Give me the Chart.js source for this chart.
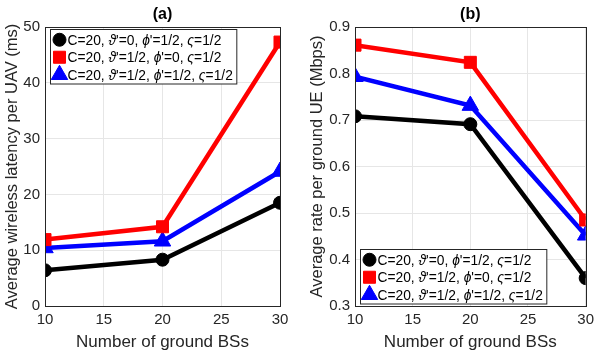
<!DOCTYPE html>
<html>
<head>
<meta charset="utf-8">
<script src="https://cdn.jsdelivr.net/npm/chart.js@4.4.1/dist/chart.umd.min.js"></script>
<style>
  body { margin: 0; background: #fff; }
  #wrap { display: flex; width: 599px; height: 353px; }
  canvas { display: block; }
</style>
</head>
<body>
<div id="wrap">
  <canvas id="latency" width="300" height="353"></canvas>
  <canvas id="rate" width="299" height="353"></canvas>
</div>
<script>
const groundBSs = [10, 20, 30];
const xTicks = [10, 15, 20, 25, 30];

// legend text, [text, italic]
const seriesLabels = [
    [['C=20, ', false], ['ϑ', true], ["'=0, ", false], ['ϕ', true], ["'=1/2, ", false], ['ς', true], ['=1/2', false]],
    [['C=20, ', false], ['ϑ', true], ["'=1/2, ", false], ['ϕ', true], ["'=0, ", false], ['ς', true], ['=1/2', false]],
    [['C=20, ', false], ['ϑ', true], ["'=1/2, ", false], ['ϕ', true], ["'=1/2, ", false], ['ς', true], ['=1/2', false]]
];
const seriesColors = ['#000000', '#ff0000', '#0000ff'];
const seriesMarkers = ['circle', 'rect', 'triangle'];
const markerRadius = [6.5, 8.5, 9.5];

// (a) average wireless latency per UAV (ms)
const latencyBlack = [6.4, 8.3, 18.5];
const latencyRed = [11.9, 14.2, 47.3];
const latencyBlue = [10.4, 11.6, 24.1];
const latencyTicks = [0, 10, 20, 30, 40, 50];

// (b) average rate per ground UE (Mbps)
const rateBlack = [0.708, 0.691, 0.36];
const rateRed = [0.861, 0.824, 0.485];
const rateBlue = [0.793, 0.731, 0.452];
const rateTicks = [0.3, 0.4, 0.5, 0.6, 0.7, 0.8, 0.9];

const FONT = 'Liberation Sans, Arial, sans-serif';
const axisColor = '#262626';

function makeDatasets(series) {
    return series.map((vals, i) => ({
        label: 'series' + i,
        data: groundBSs.map((x, k) => ({x: x, y: vals[k]})),
        borderColor: seriesColors[i],
        backgroundColor: seriesColors[i],
        borderWidth: 4.5,
        pointStyle: seriesMarkers[i],
        pointRadius: markerRadius[i],
        pointBorderWidth: 1,
        pointBackgroundColor: seriesColors[i],
        pointBorderColor: seriesColors[i],
        tension: 0
    }));
}

// box, title and the in-axes legend
const matlabPlugin = {
    id: 'matlab',
    afterDatasetsDraw(chart, args, opts) {
        const ctx = chart.ctx;
        const a = chart.chartArea;
        ctx.save();
        ctx.strokeStyle = axisColor;
        ctx.lineWidth = 1;
        ctx.strokeRect(Math.round(a.left) + 0.5, Math.round(a.top) + 0.5,
            Math.round(a.right - a.left), Math.round(a.bottom - a.top));

        // title
        ctx.fillStyle = '#000';
        ctx.font = 'bold 16px ' + FONT;
        ctx.textAlign = 'center';
        ctx.textBaseline = 'middle';
        ctx.fillText(opts.title, (a.left + a.right) / 2, 14.5);

        // legend
        ctx.textAlign = 'left';
        const fs = 13.8;
        const rowH = 17.5;
        const widths = seriesLabels.map(parts => parts.reduce((w, p) => {
            ctx.font = (p[1] ? 'italic ' : '') + fs + 'px ' + FONT;
            return w + ctx.measureText(p[0]).width;
        }, 0));
        const boxW = 18 + Math.max(...widths) + 3;
        const boxH = rowH * 3 + 2;
        const bx = Math.round(a.left + opts.legendDx) + 0.5;
        const by = opts.legendBottom
            ? Math.round(a.bottom - opts.legendDy - boxH) + 0.5
            : Math.round(a.top + opts.legendDy) + 0.5;
        ctx.fillStyle = '#fff';
        ctx.fillRect(bx, by, boxW, boxH);
        ctx.strokeStyle = axisColor;
        ctx.lineWidth = 1;
        ctx.strokeRect(bx, by, boxW, boxH);
        seriesLabels.forEach((parts, i) => {
            const cy = by + 1.5 + rowH * (i + 0.5);
            ctx.fillStyle = seriesColors[i];
            ctx.strokeStyle = seriesColors[i];
            Chart.helpers.drawPoint(ctx, {
                pointStyle: seriesMarkers[i],
                radius: markerRadius[i],
                borderWidth: 1
            }, bx + 9, cy);
            let tx = bx + 17;
            ctx.fillStyle = '#000';
            parts.forEach(p => {
                ctx.font = (p[1] ? 'italic ' : '') + fs + 'px ' + FONT;
                ctx.fillText(p[0], tx, cy + 1);
                tx += ctx.measureText(p[0]).width;
            });
        });
        ctx.restore();
    }
};

function makeChart(id, series, yTicks, yTitle, yWidth, padRight, yTitlePad, pluginOpts, fmt) {
    const ctx = document.getElementById(id).getContext('2d');
    return new Chart(ctx, {
        type: 'line',
        data: { datasets: makeDatasets(series) },
        plugins: [matlabPlugin],
        options: {
            responsive: false,
            animation: false,
            layout: { padding: { top: 27, right: padRight, left: 0, bottom: 0 } },
            plugins: {
                legend: { display: false },
                tooltip: { enabled: false },
                matlab: pluginOpts
            },
            scales: {
                x: {
                    type: 'linear',
                    min: xTicks[0],
                    max: xTicks[xTicks.length - 1],
                    afterBuildTicks: s => { s.ticks = xTicks.map(v => ({value: v})); },
                    afterFit: s => { s.height = 47; },
                    grid: { color: '#e6e6e6', drawTicks: false },
                    border: { color: axisColor },
                    ticks: { color: axisColor, font: { family: FONT, size: 15 }, padding: 5, maxRotation: 0 },
                    title: {
                        display: true, text: 'Number of ground BSs', color: axisColor,
                        font: { family: FONT, size: 17 }, padding: { top: 0, bottom: 0 }
                    }
                },
                y: {
                    min: yTicks[0],
                    max: yTicks[yTicks.length - 1],
                    afterBuildTicks: s => { s.ticks = yTicks.map(v => ({value: v})); },
                    afterFit: s => { s.width = yWidth; },
                    grid: { color: '#e6e6e6', drawTicks: false },
                    border: { color: axisColor },
                    ticks: { color: axisColor, font: { family: FONT, size: 15 }, padding: 5, callback: fmt },
                    title: {
                        display: true, text: yTitle, color: axisColor,
                        font: { family: FONT, size: 16.5 }, padding: { top: yTitlePad, bottom: 0 }
                    }
                }
            }
        }
    });
}

makeChart('latency', [latencyBlack, latencyRed, latencyBlue], latencyTicks,
    'Average wireless latency per UAV (ms)', 45, 20, 3,
    { title: '(a)', legendDx: 5, legendDy: 1.5, legendBottom: false },
    v => String(v));

makeChart('rate', [rateBlack, rateRed, rateBlue], rateTicks,
    'Average rate per ground UE (Mbps)', 55, 8, 8,
    { title: '(b)', legendDx: 5, legendDy: 3, legendBottom: true },
    v => v.toFixed(1));
</script>
</body>
</html>
